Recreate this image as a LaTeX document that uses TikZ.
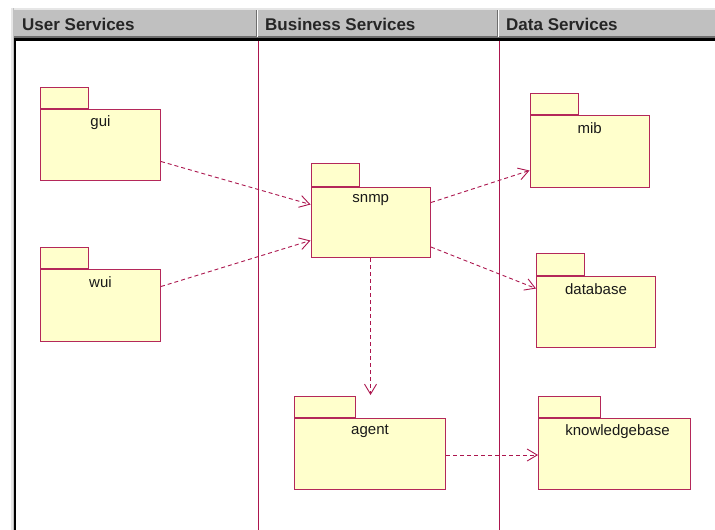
\documentclass[tikz,border=0pt]{standalone}
\usepackage{fontspec}
\setmainfont{Liberation Sans}
\usetikzlibrary{arrows.meta}
\definecolor{lanecol}{RGB}{172,22,78}
\definecolor{pkgcol}{RGB}{180,40,90}
\definecolor{pkgfill}{RGB}{255,255,204}
\definecolor{hdrgray}{RGB}{192,192,192}
\definecolor{hdrlight}{RGB}{230,230,230}
\definecolor{hdrdark}{RGB}{110,110,110}
\tikzset{
  lane/.style={draw=lanecol, line width=1pt},
  pkgbody/.style={rectangle, draw=pkgcol, fill=pkgfill, line width=1pt, inner sep=0pt},
  pkgtab/.style={rectangle, draw=pkgcol, fill=pkgfill, line width=1pt, inner sep=0pt},
  pkglabel/.style={inner sep=0pt, font=\fontsize{15}{18}\selectfont, text=black!90},
  hdrtext/.style={inner sep=0pt, anchor=base west, font=\fontsize{17}{20}\selectfont\bfseries, text=black!85},
  dep/.style={draw=lanecol, line width=0.9pt, dash pattern=on 4pt off 3pt,
    -{Straight Barb[length=10pt,width=12pt,line width=0.9pt]}},
}
\begin{document}
\begin{tikzpicture}[x=1pt,y=-1pt]
\useasboundingbox[fill=white] (0,0) rectangle (715,530);
% header
\fill[hdrgray] (13,8) rectangle (715,37);
\fill[hdrlight] (13,8) rectangle (715,9.5);
\fill[hdrdark] (13,36) rectangle (715,37.5);
\fill[black] (13,37.5) rectangle (715,40.5);
\fill[hdrdark] (256,9.5) rectangle (257,37);
\fill[white] (257,9.5) rectangle (258,37);
\fill[hdrdark] (497,9.5) rectangle (498,37);
\fill[white] (498,9.5) rectangle (499,37);
% left border
\fill[hdrlight] (11,8) rectangle (12.5,530);
\fill[hdrgray] (12.5,8) rectangle (13.5,530);
\fill[hdrdark] (13.5,37.5) rectangle (14.3,530);
\fill[black] (14.3,37.5) rectangle (15.6,530);
\node[hdrtext] (h1) at (22,30) {User Services};
\node[hdrtext] (h2) at (265,30) {Business Services};
\node[hdrtext] (h3) at (506,30) {Data Services};
% lanes
\coordinate (l1t) at (258,40.5);
\coordinate (l1b) at (258,530);
\coordinate (l2t) at (499,40.5);
\coordinate (l2b) at (499,530);
\draw[lane] (l1t) -- (l1b);
\draw[lane] (l2t) -- (l2b);
% packages
\node[pkgtab, minimum width=48pt, minimum height=21pt, anchor=south west] (guiT) at (40,109) {};
\node[pkgbody, minimum width=120pt, minimum height=71pt, anchor=north west] (gui) at (40,109) {};
\node[pkglabel] (guiL) at ([yshift=-13.5pt]gui.north) {gui};

\node[pkgtab, minimum width=48pt, minimum height=21pt, anchor=south west] (wuiT) at (40,269) {};
\node[pkgbody, minimum width=120pt, minimum height=72pt, anchor=north west] (wui) at (40,269) {};
\node[pkglabel] (wuiL) at ([yshift=-13.5pt]wui.north) {wui};

\node[pkgtab, minimum width=48pt, minimum height=23pt, anchor=south west] (snmpT) at (310.5,187) {};
\node[pkgbody, minimum width=119.5pt, minimum height=70pt, anchor=north west] (snmp) at (310.5,187) {};
\node[pkglabel] (snmpL) at ([yshift=-13.5pt]snmp.north) {snmp};

\node[pkgtab, minimum width=48pt, minimum height=21pt, anchor=south west] (mibT) at (529.5,115) {};
\node[pkgbody, minimum width=119.5pt, minimum height=72pt, anchor=north west] (mib) at (529.5,115) {};
\node[pkglabel] (mibL) at ([yshift=-13.5pt]mib.north) {mib};

\node[pkgtab, minimum width=48pt, minimum height=22pt, anchor=south west] (dbT) at (536,276) {};
\node[pkgbody, minimum width=119pt, minimum height=71pt, anchor=north west] (db) at (536,276) {};
\node[pkglabel] (dbL) at ([yshift=-13.5pt]db.north) {database};

\node[pkgtab, minimum width=61pt, minimum height=21pt, anchor=south west] (agentT) at (294,418) {};
\node[pkgbody, minimum width=151pt, minimum height=71pt, anchor=north west] (agent) at (294,418) {};
\node[pkglabel] (agentL) at ([yshift=-13.5pt]agent.north) {agent};

\node[pkgtab, minimum width=62pt, minimum height=21pt, anchor=south west] (kbT) at (538,418) {};
\node[pkgbody, minimum width=152pt, minimum height=71pt, anchor=north west] (kb) at (538,418) {};
\node[pkglabel] (kbL) at ([yshift=-13.5pt,xshift=3pt]kb.north) {knowledgebase};
% dependencies
\draw[dep] ([yshift=-16.5pt]gui.east) -- ([yshift=18pt]snmp.west);
\draw[dep] ([yshift=19pt]wui.east) -- ([yshift=-18pt]snmp.west);
\draw[dep] ([yshift=20pt]snmp.east) -- ([yshift=-19pt]mib.west);
\draw[dep] ([yshift=-24.5pt]snmp.east) -- ([yshift=23.5pt]db.west);
\draw[dep] ([xshift=-0.25pt]snmp.south) -- ([yshift=23pt,xshift=0.5pt]agent.north);
\draw[dep] ([yshift=-1pt]agent.east) -- ([yshift=-1pt]kb.west);
\end{tikzpicture}
\end{document}
